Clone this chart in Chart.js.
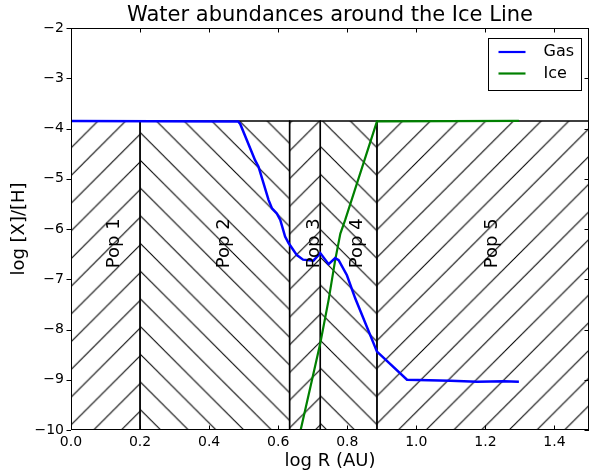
<!DOCTYPE html>
<html>
<head>
<meta charset="utf-8">
<script src="https://cdn.jsdelivr.net/npm/chart.js@4.4.0/dist/chart.umd.min.js"></script>
<style>
  html, body { margin: 0; padding: 0; background: #fff; }
  #wrap { width: 591px; height: 473px; }
</style>
</head>
<body>
<div id="wrap"><canvas id="chart" width="591" height="473"></canvas></div>
<script>
(function () {
  "use strict";

  // ── Data ──
  var gasX = [0, 0.484, 0.49, 0.533, 0.543, 0.572, 0.582, 0.596, 0.606, 0.62, 0.63, 0.654, 0.672, 0.702, 0.722, 0.746, 0.765, 0.775, 0.799, 0.823, 0.886, 0.973, 1.099, 1.176, 1.253, 1.297];
  var gasY = [-3.85, -3.86, -3.91, -4.63, -4.76, -5.42, -5.59, -5.69, -5.82, -6.15, -6.28, -6.52, -6.61, -6.63, -6.48, -6.70, -6.58, -6.62, -6.92, -7.38, -8.44, -9.00, -9.02, -9.04, -9.03, -9.04];
  var iceX = [0.665, 0.698, 0.722, 0.746, 0.765, 0.780, 0.794, 0.886, 1.297];
  var iceY = [-10, -9.0, -8.27, -7.41, -6.62, -6.09, -5.82, -3.86, -3.85];

  var popEdges = [0, 0.2, 0.633, 0.722, 0.886, 1.5];
  var popNames = ["Pop 1", "Pop 2", "Pop 3", "Pop 4", "Pop 5"];
  var popHatch = ["/", "\\", "/", "\\", "/"];
  var hatchTop = -3.85;
  var popLabelY = -6.78;

  var xTicks = [0, 0.2, 0.4, 0.6, 0.8, 1.0, 1.2, 1.4];
  var yTicks = [-10, -9, -8, -7, -6, -5, -4, -3, -2];
  var X_MIN = 0, X_MAX = 1.5, Y_MIN = -10, Y_MAX = -2;

  var FONT = "'DejaVu Sans', sans-serif";
  var GAS_COLOR = "#0000ff", ICE_COLOR = "#008000";

  var canvas = document.getElementById("chart");
  var ctx = canvas.getContext("2d");

  // ── Hatch patterns (aligned to the canvas so neighbours meet as chevrons) ──
  var HATCH_T = 28, HATCH_STEP = 27.7, HATCH_TX = 2.5, HATCH_TY = 22.5;
  function makeHatch(kind) {
    var T = HATCH_T;
    var c = document.createElement("canvas");
    c.width = T; c.height = T;
    var g = c.getContext("2d");
    g.strokeStyle = "#000";
    g.lineWidth = 1.1;
    g.beginPath();
    if (kind === "/") {
      g.moveTo(-2, T + 2); g.lineTo(T + 2, -2);
      g.moveTo(-2, 2); g.lineTo(2, -2);
      g.moveTo(T - 2, T + 2); g.lineTo(T + 2, T - 2);
    } else {
      g.moveTo(-2, -2); g.lineTo(T + 2, T + 2);
      g.moveTo(T - 2, -2); g.lineTo(T + 2, 2);
      g.moveTo(-2, T - 2); g.lineTo(2, T + 2);
    }
    g.stroke();
    var p = ctx.createPattern(c, "repeat");
    var s = HATCH_STEP / T;
    p.setTransform(new DOMMatrix([s, 0, 0, s, HATCH_TX, HATCH_TY]));
    return p;
  }

  function zip(xs, ys) {
    return xs.map(function (x, i) { return { x: x, y: ys[i] }; });
  }

  var datasets = [
    { label: "Gas", data: zip(gasX, gasY), borderColor: GAS_COLOR, borderWidth: 2.5, pointRadius: 0, fill: false, order: 0 },
    { label: "Ice", data: zip(iceX, iceY), borderColor: ICE_COLOR, borderWidth: 2.2, pointRadius: 0, fill: false, order: 0 }
  ];
  popNames.forEach(function (name, i) {
    var x0 = popEdges[i], x1 = popEdges[i + 1];
    datasets.push({
      label: name,
      data: [{ x: x0, y: Y_MIN }, { x: x0, y: hatchTop }, { x: x1, y: hatchTop }, { x: x1, y: Y_MIN }],
      borderColor: "#000",
      borderWidth: 1.4,
      backgroundColor: makeHatch(popHatch[i]),
      fill: "start",
      pointRadius: 0,
      order: 2
    });
  });

  // ── Frame, ticks, title, region labels, legend ──
  var decor = {
    id: "decor",
    afterDraw: function (chart) {
      var c = chart.ctx, a = chart.chartArea;
      var xs = chart.scales.x, ys = chart.scales.y;
      var TL = 4.5;
      c.save();
      c.strokeStyle = "#000";
      c.lineWidth = 1;
      c.strokeRect(a.left + 0.5, a.top + 0.5, a.right - a.left - 1, a.bottom - a.top - 1);
      c.beginPath();
      xTicks.forEach(function (v) {
        var px = Math.round(xs.getPixelForValue(v)) + 0.5;
        c.moveTo(px, a.bottom); c.lineTo(px, a.bottom - TL);
        c.moveTo(px, a.top); c.lineTo(px, a.top + TL);
      });
      yTicks.forEach(function (v) {
        var py = Math.round(ys.getPixelForValue(v)) + 0.5;
        c.moveTo(a.left, py); c.lineTo(a.left - TL, py);
        c.moveTo(a.right, py); c.lineTo(a.right - TL, py);
      });
      c.stroke();

      // title
      c.fillStyle = "#000";
      c.font = "21px " + FONT;
      c.textAlign = "center";
      c.textBaseline = "middle";
      c.fillText("Water abundances around the Ice Line", (a.left + a.right) / 2, 16);

      // population labels
      c.font = "18px " + FONT;
      popNames.forEach(function (name, i) {
        var mid = (popEdges[i] + popEdges[i + 1]) / 2;
        c.save();
        c.translate(xs.getPixelForValue(mid), ys.getPixelForValue(popLabelY));
        c.rotate(-Math.PI / 2);
        c.textAlign = "left";
        c.textBaseline = "top";
        c.fillText(name, 0, 0);
        c.restore();
      });

      // legend
      var bx = 488.5, by = 38.5, bw = 93, bh = 52;
      c.fillStyle = "#fff";
      c.fillRect(bx, by, bw, bh);
      c.strokeStyle = "#000";
      c.lineWidth = 1;
      c.strokeRect(bx, by, bw, bh);
      c.font = "16px " + FONT;
      c.textAlign = "left";
      c.textBaseline = "middle";
      [datasets[0], datasets[1]].forEach(function (ds, k) {
        var ly = by + 13.5 + k * 21.5;
        c.strokeStyle = ds.borderColor;
        c.lineWidth = 2.2;
        c.beginPath();
        c.moveTo(bx + 10, ly); c.lineTo(bx + 37, ly);
        c.stroke();
        c.fillStyle = "#000";
        c.fillText(ds.label, bx + 55, ly);
      });
      c.restore();
    }
  };

  new Chart(canvas, {
    type: "line",
    data: { datasets: datasets },
    options: {
      responsive: false,
      animation: false,
      devicePixelRatio: 1,
      layout: { padding: { top: 28, right: 2, left: 0, bottom: 0 } },
      plugins: { legend: { display: false }, tooltip: { enabled: false }, title: { display: false } },
      elements: { line: { tension: 0 } },
      scales: {
        x: {
          type: "linear", min: X_MIN, max: X_MAX,
          afterBuildTicks: function (s) { s.ticks = xTicks.map(function (v) { return { value: v }; }); },
          afterFit: function (s) { s.height = 43; },
          grid: { display: false, drawTicks: false },
          border: { display: false },
          ticks: {
            color: "#000", padding: 4, maxRotation: 0, autoSkip: false,
            font: { family: FONT, size: 14 },
            callback: function (v) { return Number(v).toFixed(1); }
          },
          title: { display: true, text: "log R (AU)", color: "#000", font: { family: FONT, size: 18 }, padding: { top: 0, bottom: 1 } }
        },
        y: {
          type: "linear", min: Y_MIN, max: Y_MAX,
          afterBuildTicks: function (s) { s.ticks = yTicks.map(function (v) { return { value: v }; }); },
          afterFit: function (s) { s.width = 71; },
          grid: { display: false, drawTicks: false },
          border: { display: false },
          ticks: {
            color: "#000", padding: 7, autoSkip: false,
            font: { family: FONT, size: 14 },
            callback: function (v) { return (v < 0 ? "\u2212" : "") + Math.abs(v); }
          },
          title: { display: true, text: "log [X]/[H]", color: "#000", font: { family: FONT, size: 18 }, padding: { top: 9, bottom: 0 } }
        }
      }
    },
    plugins: [decor]
  });
})();
</script>
</body>
</html>
